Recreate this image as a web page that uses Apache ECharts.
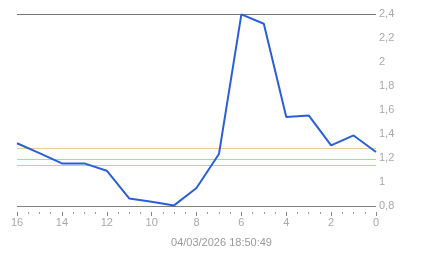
<!DOCTYPE html>
<html>
<head>
<meta charset="utf-8">
<script src="https://cdn.jsdelivr.net/npm/echarts@6/dist/echarts.min.js"></script>
<style>html,body{margin:0;padding:0;background:#fff;}#c{width:443px;height:258px;}</style>
</head>
<body>
<div id="c"></div>
<script>
var xValues = [16, 15, 14, 13, 12, 11, 10, 9, 8, 7, 6, 5, 4, 3, 2, 1, 0];
var yValues = [1.323, 1.24, 1.155, 1.155, 1.094, 0.863, 0.836, 0.805, 0.95, 1.233, 2.397, 2.319, 1.542, 1.555, 1.305, 1.388, 1.25];
var yTicks = [0.8, 1, 1.2, 1.4, 1.6, 1.8, 2, 2.2, 2.4];
var refLevels = [2.4, 1.28, 1.19, 1.142, 0.8];
var refColors = ['#777777', '#e6d08a', '#a9dc96', '#a9dc96', '#808080'];
var timestamp = '04/03/2026 18:50:49';

var chart = echarts.init(document.getElementById('c'), null, {renderer: 'canvas'});
var pts = xValues.map(function (x, i) { return [x, yValues[i]]; });
var refData = refLevels.map(function (v, i) {
  return {yAxis: v, lineStyle: {color: refColors[i], width: 1, type: 'solid'}};
});
var font = 'Liberation Sans, Arial, sans-serif';
chart.setOption({
  animation: false,
  title: {
    text: timestamp, left: 'center', bottom: 5,
    textStyle: {color: '#9a9a9a', fontSize: 11, fontWeight: 'normal', fontFamily: font}
  },
  grid: {left: 17, right: 67, top: 14, bottom: 52},
  xAxis: {
    type: 'value', min: 0, max: 16, interval: 2, inverse: true,
    offset: 6,
    axisLine: {show: false},
    axisTick: {show: true, length: 4, lineStyle: {color: '#888'}},
    minorTick: {show: true, splitNumber: 4, length: 2, lineStyle: {color: '#999'}},
    splitLine: {show: false},
    axisLabel: {color: '#a8a8a8', fontSize: 11, fontFamily: font, margin: 5}
  },
  yAxis: {
    type: 'value', position: 'right', min: 0.8, max: 2.4, interval: 0.2,
    axisLine: {show: false}, axisTick: {show: false}, splitLine: {show: false},
    axisLabel: {
      color: '#a8a8a8', fontSize: 11, fontFamily: font, margin: 3,
      formatter: function (v) { return String(Math.round(v * 10) / 10).replace('.', ','); }
    }
  },
  series: [
    {
      type: 'line', data: [], z: 1, silent: true,
      markLine: {silent: true, symbol: 'none', label: {show: false}, data: refData, animation: false}
    },
    {
      type: 'line', data: pts, z: 5, symbol: 'none', showSymbol: false,
      lineStyle: {color: '#2a5fd6', width: 2}
    }
  ]
});
</script>
</body>
</html>
